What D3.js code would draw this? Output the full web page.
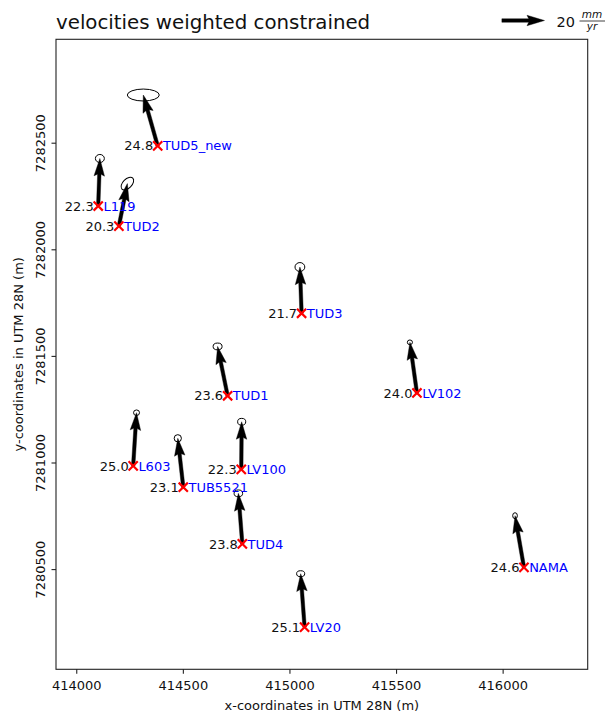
<!DOCTYPE html>
<html>
<head>
<meta charset="utf-8">
<script src="https://cdn.jsdelivr.net/npm/d3@7"></script>
<style>
  html, body { margin: 0; padding: 0; background: #fff; }
  svg { display: block; font-family: "DejaVu Sans", sans-serif; }
</style>
</head>
<body>
<svg id="chart" width="605" height="713"></svg>
<script>
// GNSS site velocities (mm/yr) with 1-sigma error ellipses, UTM 28N coordinates (m)
const stations = ["TUD5_new", "L119", "TUD2", "TUD3", "TUD1", "LV102", "L603", "TUB5521", "LV100", "TUD4", "NAMA", "LV20"];
const easting  = [414382, 414103, 414200, 415057, 414710, 415598, 414267, 414502, 414774, 414779, 416100, 415071];
const northing = [7282485, 7282203, 7282109, 7281700, 7281313, 7281326, 7280984, 7280884, 7280968, 7280618, 7280508, 7280228];
const speed    = [24.8, 22.3, 20.3, 21.7, 23.6, 24.0, 25.0, 23.1, 22.3, 23.8, 24.6, 25.1];
const azimuth  = [-15.8, 2.0, 11.3, -2.1, -11.5, -7.9, 3.6, -6.4, 0.5, -4.5, -9.8, -4.2]; // degrees from north, clockwise
const semiMajor = [7.5, 2.1, 3.6, 2.3, 2.1, 1.2, 1.4, 1.7, 1.9, 2.0, 1.4, 1.9];           // mm/yr
const semiMinor = [2.8, 1.9, 2.1, 2.1, 1.6, 1.1, 1.3, 1.7, 1.6, 1.6, 1.1, 1.4];           // mm/yr
const ellipseAngle = [0, 0, 45, 0, 0, 0, 0, 0, 0, 0, 90, 0];                           // degrees ccw from east

const xTicks = [414000, 414500, 415000, 415500, 416000];
const yTicks = [7280500, 7281000, 7281500, 7282000, 7282500];
const keySpeed = 20;

const xDomain = [413905, 416399];
const yDomain = [7280030, 7282985];
const VEC_SCALE = 10; // map metres per mm/yr

const svg = d3.select("#chart");
const plotL = 56, plotR = 587.7, plotT = 39.3, plotB = 669.3;

const x = d3.scaleLinear().domain(xDomain).range([plotL, plotR]);
const y = d3.scaleLinear().domain(yDomain).range([plotB, plotT]);
const pxPerUnit = VEC_SCALE * (plotR - plotL) / (xDomain[1] - xDomain[0]);

const sites = stations.map((name, i) => {
  const a = azimuth[i] * Math.PI / 180;
  const ve = speed[i] * Math.sin(a), vn = speed[i] * Math.cos(a);
  return {
    name, e: easting[i], n: northing[i], speed: speed[i],
    tipE: easting[i] + ve * VEC_SCALE, tipN: northing[i] + vn * VEC_SCALE,
    a: semiMajor[i], b: semiMinor[i], ang: ellipseAngle[i]
  };
});

// quiver-style arrow polygon along +x of given length (px)
function arrowPath(len, w) {
  const hw = 3 * w, hl = 5 * w, hal = 4.5 * w;
  const pts = [[0, -w / 2], [len - hal, -w / 2], [len - hl, -hw / 2], [len, 0],
               [len - hl, hw / 2], [len - hal, w / 2], [0, w / 2]];
  return "M" + pts.map(p => p.join(",")).join("L") + "Z";
}

// axes frame
svg.append("rect")
  .attr("x", plotL).attr("y", plotT)
  .attr("width", plotR - plotL).attr("height", plotB - plotT)
  .attr("fill", "none").attr("stroke", "#222").attr("stroke-width", 1.1);

// x axis
const xAxis = svg.append("g").attr("transform", `translate(0,${plotB})`)
  .call(d3.axisBottom(x).tickValues(xTicks).tickFormat(d3.format("d")).tickSizeOuter(0).tickSize(4.5).tickPadding(4));
xAxis.select(".domain").remove();
xAxis.selectAll("line").attr("stroke", "#222").attr("stroke-width", 1.1);
xAxis.selectAll("text").attr("font-size", 13).attr("fill", "#111")
  .attr("font-family", "DejaVu Sans").attr("dy", null).attr("y", 21.2);

// y axis (rotated tick labels)
const yAxis = svg.append("g").attr("transform", `translate(${plotL},0)`)
  .call(d3.axisLeft(y).tickValues(yTicks).tickFormat(d3.format("d")).tickSizeOuter(0).tickSize(4.5));
yAxis.select(".domain").remove();
yAxis.selectAll("line").attr("stroke", "#222").attr("stroke-width", 1.1);
yAxis.selectAll("text")
  .attr("font-size", 13).attr("fill", "#111").attr("font-family", "DejaVu Sans")
  .attr("x", null).attr("dy", null).attr("y", null)
  .attr("text-anchor", "middle")
  .attr("transform", "translate(-11.5,0) rotate(-90)");

// axis titles
svg.append("text")
  .attr("x", (plotL + plotR) / 2).attr("y", 710)
  .attr("text-anchor", "middle").attr("font-size", 13).attr("fill", "#111")
  .text("x-coordinates in UTM 28N (m)");
svg.append("text")
  .attr("transform", `translate(23,${(plotT + plotB) / 2}) rotate(-90)`)
  .attr("text-anchor", "middle").attr("font-size", 13).attr("fill", "#111")
  .text("y-coordinates in UTM 28N (m)");

// title
svg.append("text")
  .attr("x", plotL).attr("y", 28.5)
  .attr("font-size", 19.8).attr("fill", "#111")
  .text("velocities weighted constrained");

// error ellipses at arrow tips
svg.append("g").selectAll("ellipse").data(sites).join("ellipse")
  .attr("transform", d => `translate(${x(d.tipE)},${y(d.tipN)}) rotate(${-d.ang})`)
  .attr("rx", d => d.a * pxPerUnit)
  .attr("ry", d => d.b * pxPerUnit)
  .attr("fill", "none").attr("stroke", "#000").attr("stroke-width", 1);

// velocity arrows
const W = 3.5;
svg.append("g").selectAll("path").data(sites).join("path")
  .attr("d", d => {
    const dx = x(d.tipE) - x(d.e), dy = y(d.tipN) - y(d.n);
    return arrowPath(Math.hypot(dx, dy), W);
  })
  .attr("transform", d => {
    const dx = x(d.tipE) - x(d.e), dy = y(d.tipN) - y(d.n);
    return `translate(${x(d.e)},${y(d.n)}) rotate(${Math.atan2(dy, dx) * 180 / Math.PI})`;
  })
  .attr("fill", "#000").attr("stroke", "#000").attr("stroke-width", 0.4);

// site markers
const mk = 4.6;
svg.append("g").selectAll("path").data(sites).join("path")
  .attr("d", d => {
    const cx = x(d.e), cy = y(d.n);
    return `M${cx - mk},${cy - mk}L${cx + mk},${cy + mk}M${cx - mk},${cy + mk}L${cx + mk},${cy - mk}`;
  })
  .attr("stroke", "#ff0000").attr("stroke-width", 2.2).attr("fill", "none");

// speed values and site names
const labels = svg.append("g").attr("font-size", 13);
labels.selectAll("text.val").data(sites).join("text")
  .attr("class", "val")
  .attr("x", d => x(d.e) - 4.5).attr("y", d => y(d.n) + 4.6)
  .attr("text-anchor", "end").attr("fill", "#111")
  .text(d => d.speed.toFixed(1));
labels.selectAll("text.name").data(sites).join("text")
  .attr("class", "name")
  .attr("x", d => x(d.e) + 5.2).attr("y", d => y(d.n) + 4.6)
  .attr("fill", "#0000ff")
  .text(d => d.name);

// reference arrow key
const keyTip = 544.5, keyY = 20.5;
const keyLen = keySpeed * pxPerUnit;
svg.append("path")
  .attr("d", arrowPath(keyLen, W))
  .attr("transform", `translate(${keyTip - keyLen},${keyY})`)
  .attr("fill", "#000").attr("stroke", "#000").attr("stroke-width", 0.4);
svg.append("text")
  .attr("x", 556.5).attr("y", keyY + 6)
  .attr("font-size", 14.5).attr("fill", "#111")
  .text(keySpeed);
const fx = 592;
svg.append("text")
  .attr("x", fx).attr("y", 18).attr("text-anchor", "middle")
  .attr("font-size", 10.5).attr("font-style", "italic").attr("fill", "#111")
  .text("mm");
svg.append("line")
  .attr("x1", 579.5).attr("x2", 605).attr("y1", 21).attr("y2", 21)
  .attr("stroke", "#111").attr("stroke-width", 0.8);
svg.append("text")
  .attr("x", fx).attr("y", 30).attr("text-anchor", "middle")
  .attr("font-size", 10.5).attr("font-style", "italic").attr("fill", "#111")
  .text("yr");
</script>
</body>
</html>
